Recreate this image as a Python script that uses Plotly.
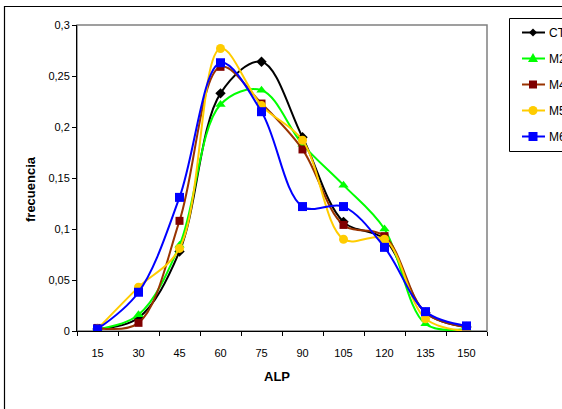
import plotly.graph_objects as go

alp = ["15", "30", "45", "60", "75", "90", "105", "120", "135", "150"]
ct = [0.002, 0.013, 0.078, 0.233, 0.264, 0.190, 0.107, 0.090, 0.018, 0.004]
m2 = [0.002, 0.016, 0.084, 0.222, 0.236, 0.183, 0.143, 0.100, 0.007, 0.002]
m4 = [0.003, 0.008, 0.108, 0.259, 0.223, 0.178, 0.104, 0.093, 0.018, 0.004]
m5 = [0.002, 0.043, 0.081, 0.277, 0.221, 0.187, 0.090, 0.090, 0.012, 0.000]
m6 = [0.002, 0.038, 0.131, 0.263, 0.215, 0.122, 0.122, 0.082, 0.019, 0.005]

series = [
    ("CT", ct, "#000000", "#000000", "diamond", 8),
    ("M2", m2, "#00FF00", "#00FF00", "triangle-up", 9),
    ("M4", m4, "#993300", "#800000", "square", 8),
    ("M5", m5, "#FFCC00", "#FFCC00", "circle", 9),
    ("M6", m6, "#0000FF", "#0000FF", "square", 9),
]

W, H = 562, 409
L, R, T, B = 77, 487, 25, 331
pw, ph = R - L, B - T


def px(x):
    return (x - L) / pw


def py(y):
    return (B - y) / ph


def path(points):
    return "M " + " L ".join(f"{px(a):.5f},{py(b):.5f}" for a, b in points) + " Z"


fig = go.Figure()
for name, vals, lc, mc, sym, sz in series:
    fig.add_trace(go.Scatter(
        x=alp, y=vals, name=name, showlegend=False,
        mode="lines+markers",
        line=dict(color=lc, width=2, shape="spline", smoothing=1.0),
        marker=dict(color=mc, symbol=sym, size=sz, line=dict(width=0)),
    ))

shapes = [
    dict(type="rect", xref="paper", yref="paper", x0=0, y0=0, x1=1, y1=1,
         line=dict(color="#808080", width=1.5), layer="below"),
    dict(type="rect", xref="paper", yref="paper",
         x0=px(4.5), y0=py(420), x1=px(600), y1=py(6.5),
         line=dict(color="black", width=1.2), layer="below"),
    # legend box
    dict(type="rect", xref="paper", yref="paper",
         x0=px(509.5), y0=py(151.5), x1=px(620), y1=py(18.5),
         line=dict(color="black", width=1), fillcolor="white", layer="above"),
]
annotations = [
    dict(text="<b>frecuencia</b>", xref="paper", yref="paper",
         x=px(30), y=py(189), textangle=-90, showarrow=False,
         font=dict(size=13), xanchor="center", yanchor="middle"),
    dict(text="<b>ALP</b>", xref="paper", yref="paper",
         x=px(277), y=py(376), showarrow=False,
         font=dict(size=13), xanchor="center", yanchor="middle"),
]

lx0, lx1, mx = 522, 545, 533
for i, (name, vals, lc, mc, sym, sz) in enumerate(series):
    yc = 32.5 + 26 * i
    shapes.append(dict(type="line", xref="paper", yref="paper",
                       x0=px(lx0), x1=px(lx1), y0=py(yc), y1=py(yc),
                       line=dict(color=lc, width=2), layer="above"))
    h = sz / 2
    if sym == "diamond":
        p = path([(mx, yc - h), (mx + h, yc), (mx, yc + h), (mx - h, yc)])
        shapes.append(dict(type="path", xref="paper", yref="paper", path=p,
                           fillcolor=mc, line=dict(width=0), layer="above"))
    elif sym == "triangle-up":
        p = path([(mx, yc - h - 1), (mx + h + 0.5, yc + h - 1), (mx - h - 0.5, yc + h - 1)])
        shapes.append(dict(type="path", xref="paper", yref="paper", path=p,
                           fillcolor=mc, line=dict(width=0), layer="above"))
    elif sym == "square":
        shapes.append(dict(type="rect", xref="paper", yref="paper",
                           x0=px(mx - h), x1=px(mx + h), y0=py(yc + h), y1=py(yc - h),
                           fillcolor=mc, line=dict(width=0), layer="above"))
    else:
        shapes.append(dict(type="circle", xref="paper", yref="paper",
                           x0=px(mx - h), x1=px(mx + h), y0=py(yc + h), y1=py(yc - h),
                           fillcolor=mc, line=dict(width=0), layer="above"))
    annotations.append(dict(text=name, xref="paper", yref="paper",
                            x=px(547), y=py(yc), xanchor="left", yanchor="middle",
                            showarrow=False, font=dict(size=12)))

fig.update_layout(
    width=W, height=H,
    margin=dict(l=L, r=W - R, t=T, b=H - B, pad=0),
    paper_bgcolor="white", plot_bgcolor="white",
    separators=",.",
    font=dict(family="Liberation Sans, Arial, sans-serif", size=11, color="black"),
    showlegend=False,
    xaxis=dict(
        type="category", range=[-0.5, 9.5],
        showline=True, linecolor="black", linewidth=1,
        ticks="outside", ticklen=4, tickcolor="black", tickson="boundaries",
        showgrid=False, zeroline=False, ticklabelstandoff=12,
    ),
    yaxis=dict(
        range=[0, 0.3], tick0=0, dtick=0.05,
        showline=True, linecolor="black", linewidth=1,
        ticks="outside", ticklen=4, tickcolor="black",
        showgrid=False, zeroline=False,
    ),
    shapes=shapes,
    annotations=annotations,
)

fig.write_html("out.html")
